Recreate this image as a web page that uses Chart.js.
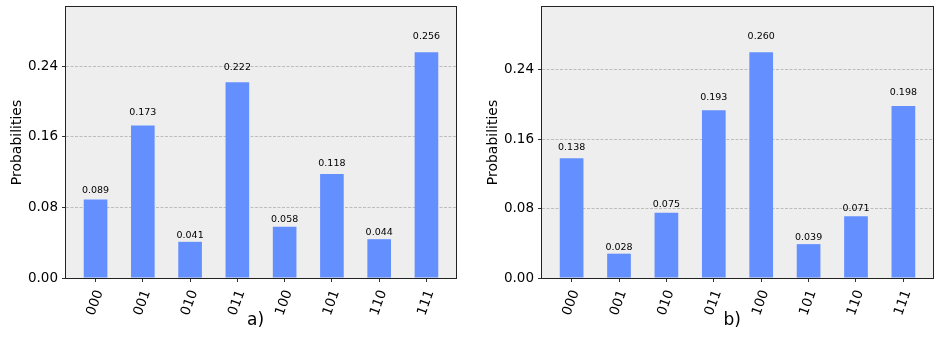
<!DOCTYPE html>
<html>
<head>
<meta charset="utf-8">
<script src="https://cdn.jsdelivr.net/npm/chart.js@4/dist/chart.umd.min.js"></script>
<style>
  html, body { margin: 0; padding: 0; background: #fff; }
  #wrap { position: relative; width: 945px; height: 342px; }
  canvas { position: absolute; top: 0; }
</style>
</head>
<body>
<div id="wrap">
  <canvas id="chartA" width="476" height="342" style="left:0;width:476px;height:342px"></canvas>
  <canvas id="chartB" width="469" height="342" style="left:476px;width:469px;height:342px"></canvas>
</div>
<script>
const states = ['000', '001', '010', '011', '100', '101', '110', '111'];
const probsA = [0.089, 0.173, 0.041, 0.222, 0.058, 0.118, 0.044, 0.256];
const probsB = [0.138, 0.028, 0.075, 0.193, 0.260, 0.039, 0.071, 0.198];
const yTicks = [0, 0.08, 0.16, 0.24];
const yMaxA = 0.3072;
const yMaxB = 0.312;

const FONT = '"DejaVu Sans", sans-serif';

// grey background + black frame around the plot area
const frame = {
  id: 'frame',
  beforeDraw(chart) {
    const a = chart.chartArea, ctx = chart.ctx;
    ctx.save();
    ctx.fillStyle = '#eeeeee';
    ctx.fillRect(a.left, a.top, a.right - a.left, a.bottom - a.top);
    ctx.restore();
  },
  afterDraw(chart) {
    const a = chart.chartArea, ctx = chart.ctx;
    ctx.save();
    ctx.strokeStyle = '#222';
    ctx.lineWidth = 1;
    ctx.strokeRect(Math.round(a.left) - 0.5, Math.round(a.top) - 0.5,
      Math.round(a.right - a.left) + 1, Math.round(a.bottom - a.top) + 1);
    ctx.restore();
  }
};

// value text above each bar, at 1.05 * height
const valueLabels = {
  id: 'valueLabels',
  afterDatasetsDraw(chart) {
    const ctx = chart.ctx;
    const meta = chart.getDatasetMeta(0);
    const y = chart.scales.y;
    const vals = chart.data.datasets[0].data;
    ctx.save();
    ctx.font = '9.5px ' + FONT;
    ctx.fillStyle = '#000';
    ctx.textAlign = 'center';
    ctx.textBaseline = 'alphabetic';
    meta.data.forEach((bar, i) => {
      const v = vals[i].y;
      ctx.fillText(v.toFixed(3), bar.x, y.getPixelForValue(v * 1.05) - 2.3);
    });
    ctx.restore();
  }
};

function makeChart(id, probs, yMax, label, padRight) {
  const ctx = document.getElementById(id).getContext('2d');
  return new Chart(ctx, {
    type: 'bar',
    data: {
      datasets: [{
        data: probs.map((v, i) => ({ x: i, y: v })),
        backgroundColor: '#648fff',
        borderWidth: 0,
        barPercentage: 0.5,
        categoryPercentage: 1
      }]
    },
    options: {
      responsive: false,
      animation: false,
      devicePixelRatio: 1,
      layout: { padding: { left: 0, right: padRight, top: 7, bottom: 0 } },
      plugins: {
        legend: { display: false },
        tooltip: { enabled: false }
      },
      scales: {
        x: {
          type: 'linear',
          min: -0.625,
          max: 7.625,
          offset: false,
          afterBuildTicks(s) { s.ticks = states.map((_, i) => ({ value: i })); },
          afterFit(s) { s.height = 64; s.paddingLeft = 0; s.paddingRight = 0; },
          ticks: {
            autoSkip: false,
            minRotation: 70,
            maxRotation: 70,
            padding: 6,
            labelOffset: 4,
            color: '#000',
            font: { family: FONT, size: 13.5 },
            callback: (v) => states[v]
          },
          grid: {
            offset: false,
            drawOnChartArea: false,
            tickLength: 4,
            tickColor: '#333',
            tickWidth: 1
          },
          border: { display: false },
          title: {
            display: true,
            text: label + '  ',
            color: '#000',
            font: { family: FONT, size: 17 },
            padding: { top: 0, bottom: 11 }
          }
        },
        y: {
          min: 0,
          max: yMax,
          afterBuildTicks(s) { s.ticks = yTicks.map(v => ({ value: v })); },
          afterFit(s) { s.width = 66; s.paddingTop = 0; s.paddingBottom = 0; },
          ticks: {
            padding: 4,
            color: '#000',
            font: { family: FONT, size: 13.5 },
            callback: (v) => v.toFixed(2)
          },
          grid: {
            color: '#b0b0b0',
            lineWidth: 0.8,
            tickLength: 4,
            tickColor: '#333',
            tickWidth: 1,
            tickBorderDash: []
          },
          border: { display: false, dash: [3, 1.5] },
          title: {
            display: true,
            text: 'Probabilities',
            color: '#000',
            font: { family: FONT, size: 14 },
            padding: { top: 8.5, bottom: 0 }
          }
        }
      }
    },
    plugins: [frame, valueLabels]
  });
}

makeChart('chartA', probsA, yMaxA, 'a)', 20);
makeChart('chartB', probsB, yMaxB, 'b)', 12);
</script>
</body>
</html>
